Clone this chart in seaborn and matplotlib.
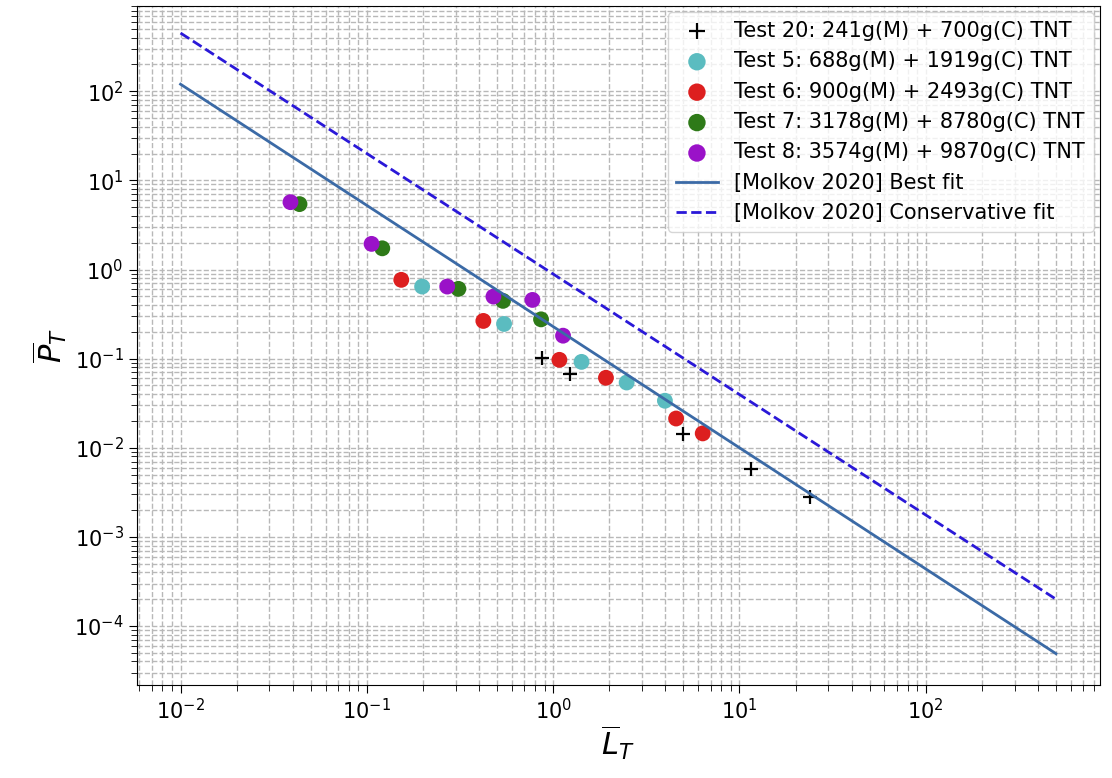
import numpy as np
import pandas as pd
import matplotlib
matplotlib.use("Agg")
import matplotlib.pyplot as plt
import seaborn as sns

# data
t20_x = [0.875, 1.23, 4.95, 11.6, 23.8]
t20_y = [0.103, 0.067, 0.0141, 0.00576, 0.00281]

t5_x = [0.198, 0.545, 1.42, 2.48, 3.98]
t5_y = [0.644, 0.245, 0.092, 0.054, 0.0337]

t6_x = [0.153, 0.422, 1.08, 1.92, 4.57, 6.35]
t6_y = [0.766, 0.265, 0.097, 0.061, 0.0213, 0.0145]

t7_x = [0.0435, 0.121, 0.310, 0.538, 0.861]
t7_y = [5.42, 1.73, 0.607, 0.445, 0.276]

t8_x = [0.0389, 0.106, 0.270, 0.478, 0.774, 1.13]
t8_y = [5.70, 1.94, 0.644, 0.497, 0.456, 0.181]

fit_x = [0.01, 500]
best_y = [120, 4.9e-5]
cons_y = [450, 2.0e-4]

labels = ["Test 20: 241g(M) + 700g(C) TNT",
          "Test 5: 688g(M) + 1919g(C) TNT",
          "Test 6: 900g(M) + 2493g(C) TNT",
          "Test 7: 3178g(M) + 8780g(C) TNT",
          "Test 8: 3574g(M) + 9870g(C) TNT",
          "[Molkov 2020] Best fit",
          "[Molkov 2020] Conservative fit"]

plt.rcParams['font.family'] = ['DejaVu Sans']
fig, ax = plt.subplots(figsize=(11.12, 7.78), dpi=100)

sns.scatterplot(x=t20_x, y=t20_y, marker="+", color="k", s=110, linewidth=1.6, label=labels[0], ax=ax)
sns.scatterplot(x=t5_x, y=t5_y, color="#5bbcc0", s=130, edgecolor="none", label=labels[1], ax=ax)
sns.scatterplot(x=t6_x, y=t6_y, color="#dd1f1f", s=130, edgecolor="none", label=labels[2], ax=ax)
sns.scatterplot(x=t7_x, y=t7_y, color="#2e7a18", s=130, edgecolor="none", label=labels[3], ax=ax)
sns.scatterplot(x=t8_x, y=t8_y, color="#9a12c8", s=130, edgecolor="none", label=labels[4], ax=ax)

df_fit = pd.DataFrame({"x": fit_x, "best": best_y, "cons": cons_y})
sns.lineplot(data=df_fit, x="x", y="best", color="#3b6aa6", linewidth=2, label=labels[5], ax=ax)
sns.lineplot(data=df_fit, x="x", y="cons", color="#2a18d8", linewidth=2, linestyle="--", label=labels[6], ax=ax)

ax.set_xscale("log")
ax.set_yscale("log")
ax.set_ylim(2.2e-5, 900)
ax.grid(True, which="both", linestyle="--", color="#b8b8b8", linewidth=1)
ax.set_axisbelow(True)

ax.tick_params(axis="both", which="major", labelsize=15, length=6)
ax.tick_params(axis="both", which="minor", length=4)
ax.set_xlabel(r"$\overline{L}_T$", fontsize=22, labelpad=0)
ax.set_ylabel(r"$\overline{P}_T$", fontsize=22)

ax.legend(loc="upper right", fontsize=15, borderaxespad=0.3, markerscale=1.1)
plt.subplots_adjust(left=0.123, right=0.989, top=0.992, bottom=0.12)
plt.savefig("out.png", dpi=100)
